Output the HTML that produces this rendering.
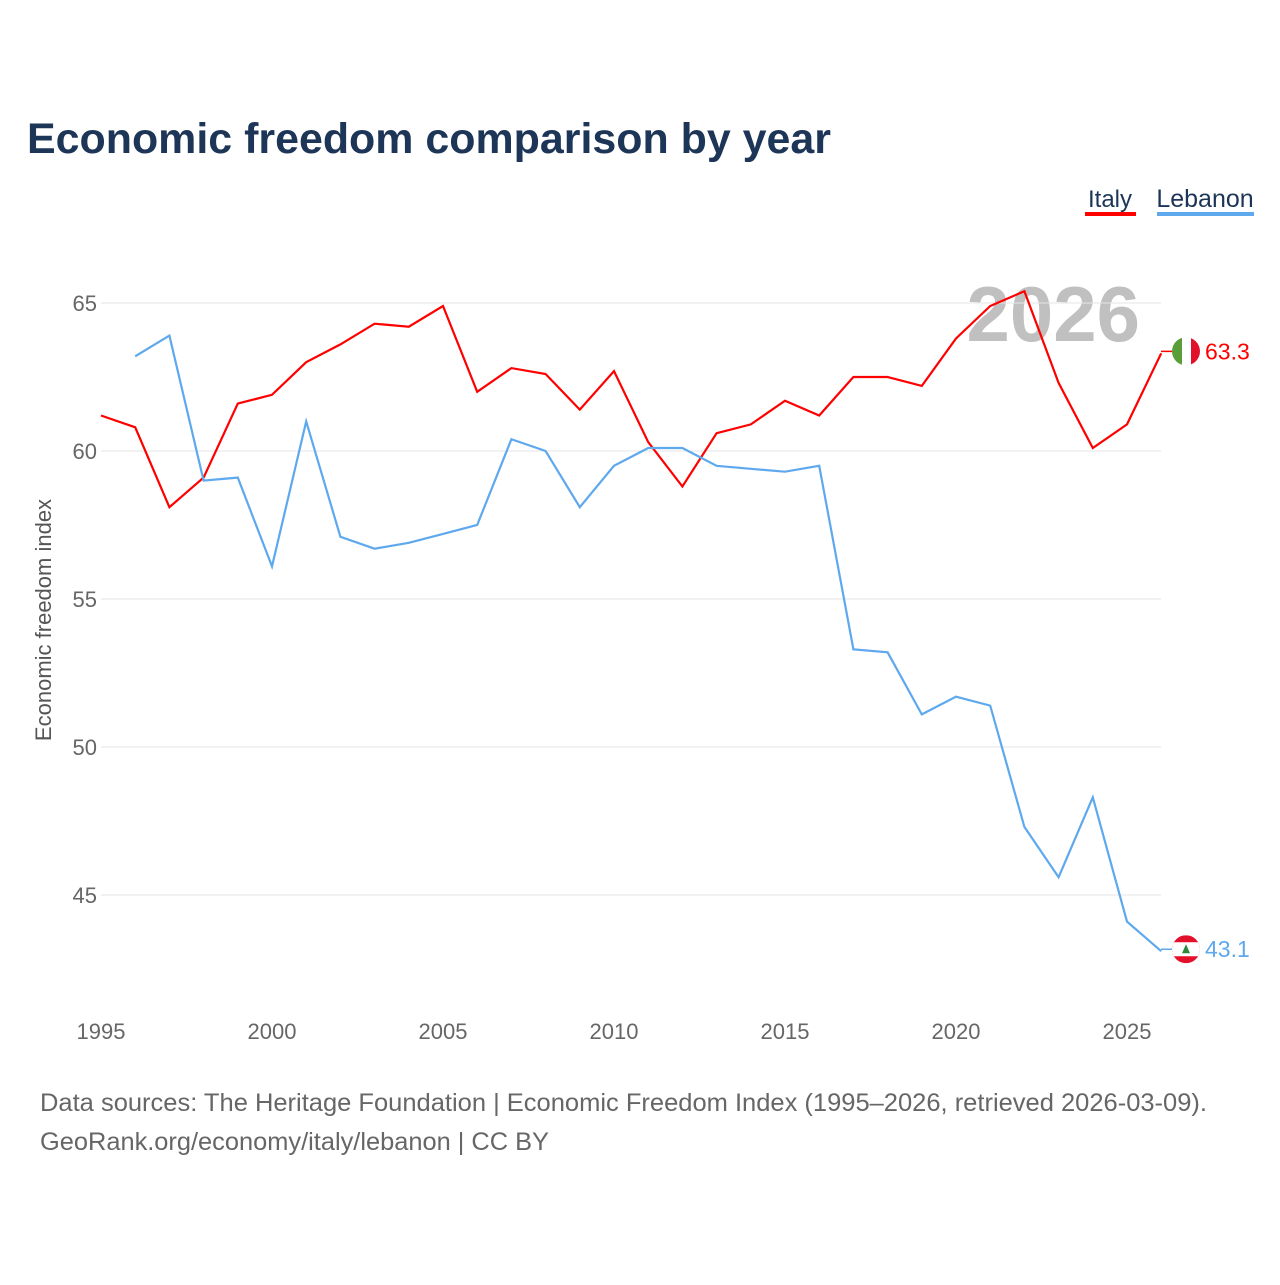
<!DOCTYPE html>
<html><head><meta charset="utf-8"><style>
body{margin:0;background:#fff;font-family:"Liberation Sans",sans-serif;}
svg text{font-family:"Liberation Sans",sans-serif;}
</style></head><body>
<svg width="1280" height="1280" viewBox="0 0 1280 1280">
<text x="27" y="153" font-size="43" font-weight="bold" fill="#1d3557" textLength="804" lengthAdjust="spacingAndGlyphs">Economic freedom comparison by year</text>
<g>
<text x="1110" y="207" font-size="24" fill="#1d3557" text-anchor="middle">Italy</text>
<rect x="1085" y="212" width="51" height="4" fill="#f00"/>
<text x="1205" y="207" font-size="25" fill="#1d3557" text-anchor="middle">Lebanon</text>
<rect x="1157" y="212" width="97" height="4" fill="#5ea8ee"/>
</g>
<text x="1140" y="341" font-size="78" font-weight="bold" fill="#c0c0c0" text-anchor="end">2026</text>
<g id="grid"></g>
<g id="xt"></g>
<text transform="translate(51,620) rotate(-90)" font-size="22" fill="#555" text-anchor="middle">Economic freedom index</text>
<g id="lines"></g>
<g id="ends"></g>
<text x="40" y="1111" font-size="25" fill="#666" textLength="1167" lengthAdjust="spacingAndGlyphs">Data sources: The Heritage Foundation | Economic Freedom Index (1995–2026, retrieved 2026-03-09).</text>
<text x="40" y="1150" font-size="25" fill="#666" textLength="509" lengthAdjust="spacingAndGlyphs">GeoRank.org/economy/italy/lebanon | CC BY</text>
</svg>
<script>
const years=[1995,1996,1997,1998,1999,2000,2001,2002,2003,2004,2005,2006,2007,2008,2009,2010,2011,2012,2013,2014,2015,2016,2017,2018,2019,2020,2021,2022,2023,2024,2025,2026];
const italy=[61.2,60.8,58.1,59.1,61.6,61.9,63.0,63.6,64.3,64.2,64.9,62.0,62.8,62.6,61.4,62.7,60.3,58.8,60.6,60.9,61.7,61.2,62.5,62.5,62.2,63.8,64.9,65.4,62.3,60.1,60.9,63.3];
const lebanon=[null,63.2,63.9,59.0,59.1,56.1,61.0,57.1,56.7,56.9,57.2,57.5,60.4,60.0,58.1,59.5,60.1,60.1,59.5,59.4,59.3,59.5,53.3,53.2,51.1,51.7,51.4,47.3,45.6,48.3,44.1,43.1];
const yTicks=[45,50,55,60,65];
const xTicks=[1995,2000,2005,2010,2015,2020,2025];
const NS="http://www.w3.org/2000/svg";
const X=y=>101+(y-1995)*34.2;
const Y=v=>451-(v-60)*29.6;
function mk(t,a,p){const e=document.createElementNS(NS,t);for(const k in a)e.setAttribute(k,a[k]);p.appendChild(e);return e;}
const grid=document.getElementById('grid');
yTicks.forEach(v=>{
 const l=mk('line',{x1:101,x2:1161,y1:Y(v),y2:Y(v),stroke:'#e6e6e6','stroke-width':1},grid);
 
 
 const t=mk('text',{x:97,y:Y(v)+8,'font-size':22,fill:'#666','text-anchor':'end'},grid);t.textContent=v;
 
 
});
const xt=document.getElementById('xt');
xTicks.forEach(v=>{
 const t=mk('text',{x:X(v),y:1039,'font-size':22,fill:'#666','text-anchor':'middle'},xt);t.textContent=v;
 
 
});
function path(arr){let d='';arr.forEach((v,i)=>{if(v==null)return;d+=(d?'L':'M')+X(years[i]).toFixed(1)+','+Y(v).toFixed(1);});return d;}
const lines=document.getElementById('lines');
const pi=mk('path',{d:path(italy),fill:'none',stroke:'#f00','stroke-width':2.2},lines);


const pl=mk('path',{d:path(lebanon),fill:'none',stroke:'#5ea8ee','stroke-width':2.2},lines);


const ends=document.getElementById('ends');
function endLabel(v,col,name,flag){
 const cy=Y(v)-2,cx=1186;
 const g=mk('g',{},ends);
 
 
 mk('line',{x1:1161,x2:cx,y1:cy,y2:cy,stroke:col,'stroke-width':1.5},g);
 const cp=mk('clipPath',{id:'c'+name},g);mk('circle',{cx,cy,r:14},cp);
 const f=mk('g',{'clip-path':'url(#c'+name+')'},g);
 flag(f,cx,cy);
 const t=mk('text',{x:1205,y:cy+8,'font-size':23,fill:col},g);t.textContent=v.toFixed(1);
}
endLabel(italy[italy.length-1],'#f00','italy',(f,cx,cy)=>{
 mk('rect',{x:cx-14,y:cy-14,width:10,height:28,fill:'#5a9e3a'},f);
 mk('rect',{x:cx-4,y:cy-14,width:9,height:28,fill:'#fff'},f);
 mk('rect',{x:cx+5,y:cy-14,width:10,height:28,fill:'#e3102c'},f);
});
endLabel(lebanon[lebanon.length-1],'#5ea8ee','lebanon',(f,cx,cy)=>{
 mk('rect',{x:cx-14,y:cy-14,width:28,height:28,fill:'#e3102c'},f);
 mk('rect',{x:cx-14,y:cy-7,width:28,height:14,fill:'#fff'},f);
 mk('polygon',{points:`${cx},${cy-5} ${cx+4},${cy+4} ${cx-4},${cy+4}`,fill:'#2a8a3a'},f);
});
</script>
</body></html>
